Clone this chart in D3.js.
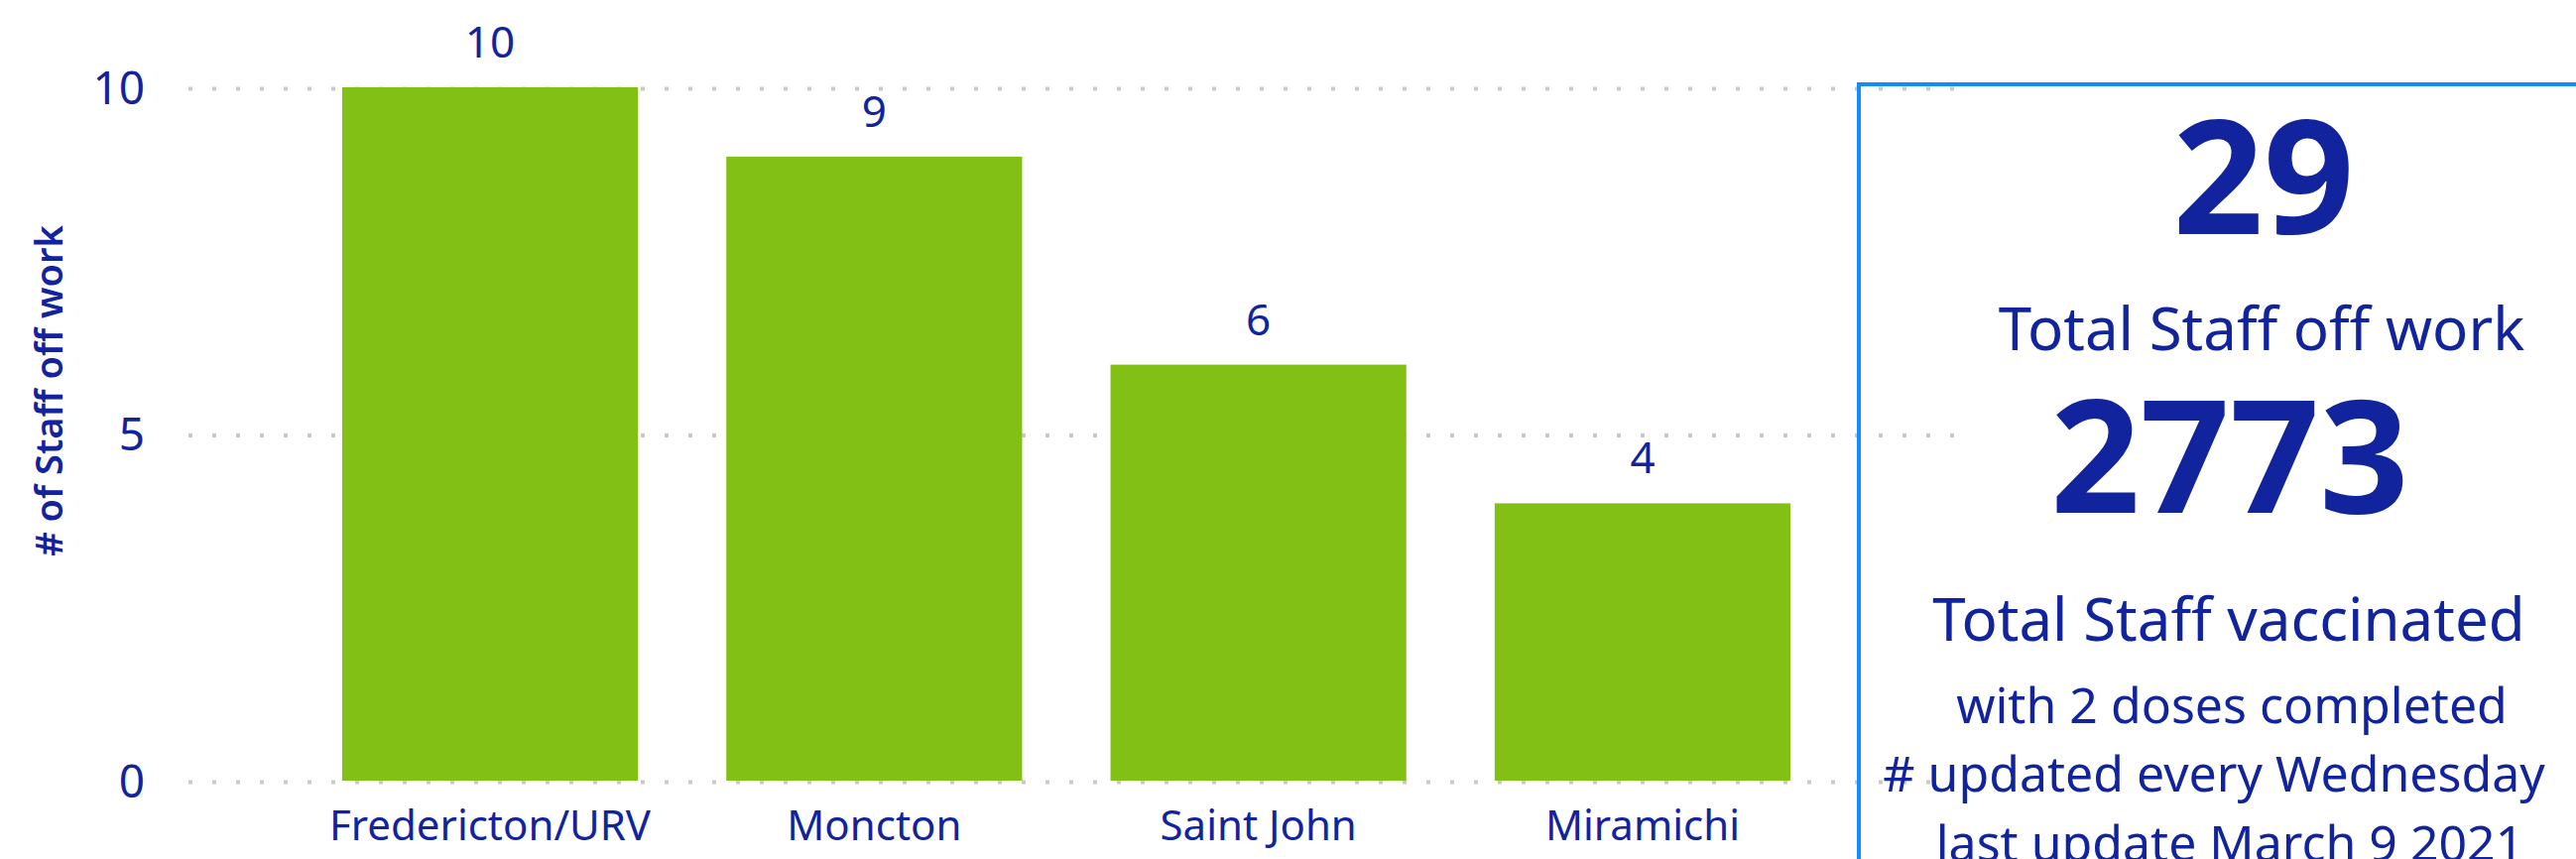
<html>
<head>
  <title>Staff off work</title>
  <script src="https://cdn.jsdelivr.net/npm/d3@7"></script>
  <style>
    body { margin: 0; background: #fff; }
    text { font-family: "Segoe UI", "Noto Sans", sans-serif; fill: #12239E; }
  </style>
</head>
<body>
  <script>
    // data
    let regions = ["Fredericton/URV", "Moncton", "Saint John", "Miramichi"]
    let staffOff = [10, 9, 6, 4]
    let yTicks = [0, 5, 10]
    let totalOff = 29
    let totalVaccinated = 2773
    let panelLines = ["with 2 doses completed", "# updated every Wednesday", "last update March 9 2021"]

    var width = 2597,
        height = 866;

    var svg = d3.select('body')
      .append('svg')
      .attr('width', width)
      .attr('height', height);

    var x = d3.scaleBand()
      .domain(regions)
      .range([190, 1960])
      .paddingInner(0.23)
      .paddingOuter(0.4);

    var y = d3.scaleLinear()
      .domain([0, 10])
      .range([787, 88]);

    // dotted gridlines
    svg.append('g')
      .selectAll('line')
      .data(yTicks)
      .enter()
      .append('line')
      .attr('x1', 190)
      .attr('x2', 1972)
      .attr('y1', d => y(d) + 1.5)
      .attr('y2', d => y(d) + 1.5)
      .attr('stroke', '#c8c8c8')
      .attr('stroke-width', 4)
      .attr('stroke-dasharray', '4 20');

    // y axis labels
    let yAxis = svg.append('g')
      .attr('transform', 'translate(146,0)')
      .call(d3.axisLeft(y).tickValues(yTicks).tickSize(0).tickPadding(0));
    yAxis.select('.domain').remove();
    yAxis.selectAll('text')
      .attr('font-size', 46)
      .attr('dy', '0.35em')
      .style('font-family', '"Segoe UI", "Noto Sans", sans-serif')
      .attr('fill', '#12239E');

    svg.append('text')
      .attr('transform', 'translate(50,394) rotate(-90)')
      .attr('text-anchor', 'middle')
      .attr('dy', '0.35em')
      .attr('font-size', 38)
      .attr('font-weight', 600)
      .text('# of Staff off work');

    // bars
    svg.append('g')
      .selectAll('rect')
      .data(staffOff)
      .enter()
      .append('rect')
      .attr('x', (d, i) => x(regions[i]))
      .attr('y', d => y(d))
      .attr('width', x.bandwidth())
      .attr('height', d => y(0) - y(d))
      .attr('fill', '#82C016');

    // value labels
    svg.append('g')
      .selectAll('text')
      .data(staffOff)
      .enter()
      .append('text')
      .attr('x', (d, i) => x(regions[i]) + x.bandwidth() / 2)
      .attr('y', d => y(d) - 30)
      .attr('text-anchor', 'middle')
      .attr('font-size', 44)
      .text(d => d);

    // category axis
    let xAxis = svg.append('g')
      .attr('transform', 'translate(0,' + y(0) + ')')
      .call(d3.axisBottom(x).tickSize(0).tickPadding(0));
    xAxis.select('.domain').remove();
    xAxis.selectAll('text')
      .attr('y', 60)
      .attr('dy', 0)
      .attr('font-size', 42)
      .style('font-family', '"Segoe UI", "Noto Sans", sans-serif')
      .attr('fill', '#12239E');

    // card panel on the right
    svg.append('rect')
      .attr('x', 1874)
      .attr('y', 85)
      .attr('width', 1000)
      .attr('height', 1000)
      .attr('fill', 'none')
      .attr('stroke', '#118DFF')
      .attr('stroke-width', 4);

    let card = svg.append('g');

    card.append('text')
      .attr('x', 2282).attr('y', 236)
      .attr('text-anchor', 'middle')
      .attr('font-size', 160)
      .attr('font-weight', 700)
      .text(totalOff);

    card.append('text')
      .attr('x', 2280).attr('y', 353)
      .attr('text-anchor', 'middle')
      .attr('font-size', 60)
      .text('Total Staff off work');

    card.append('text')
      .attr('x', 2248).attr('y', 517)
      .attr('text-anchor', 'middle')
      .attr('font-size', 158)
      .attr('font-weight', 700)
      .text(totalVaccinated);

    card.append('text')
      .attr('x', 2247).attr('y', 646)
      .attr('text-anchor', 'middle')
      .attr('font-size', 60)
      .text('Total Staff vaccinated');

    card.selectAll('.small')
      .data(panelLines)
      .enter()
      .append('text')
      .attr('class', 'small')
      .attr('x', (d, i) => [2250, 2232, 2248][i])
      .attr('y', (d, i) => [729, 798, 868][i])
      .attr('text-anchor', 'middle')
      .attr('font-size', 50)
      .text(d => d);
  </script>
</body>
</html>
